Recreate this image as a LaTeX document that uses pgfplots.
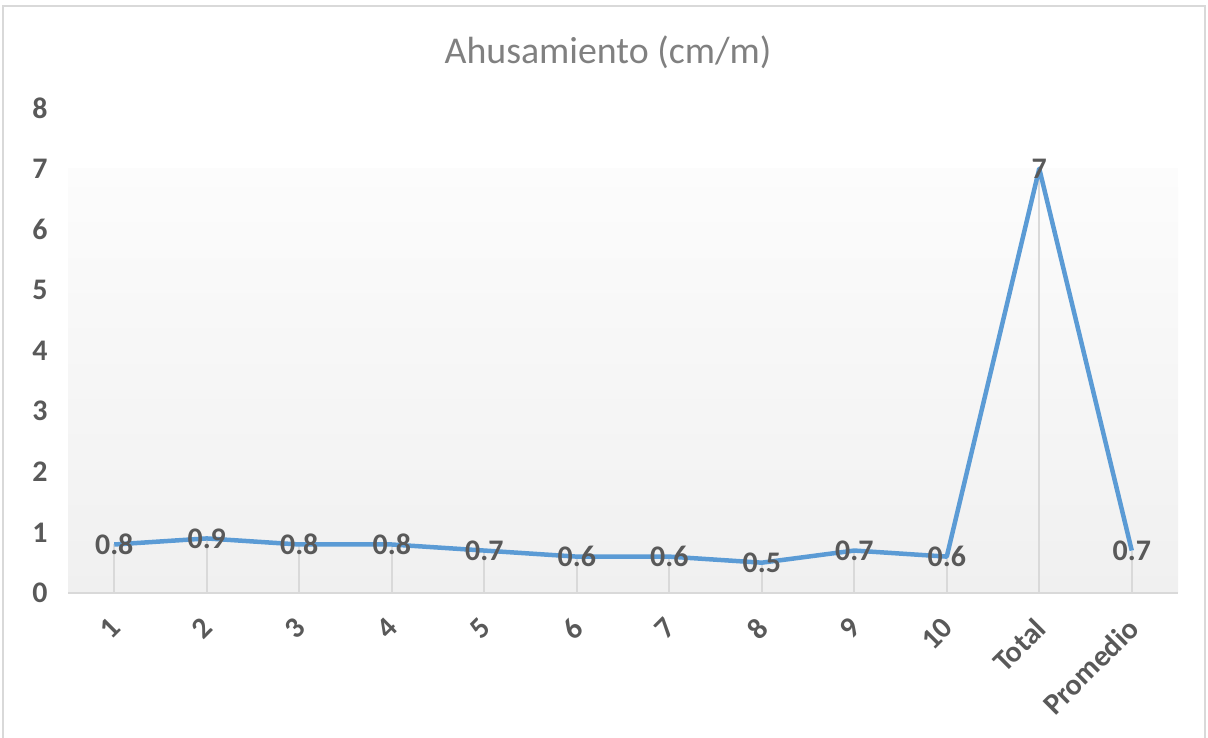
\documentclass[border=0pt]{standalone}
\usepackage{pgfplots}
\pgfplotsset{compat=1.18}
\usepackage{fontspec}
\setmainfont{Carlito}
\definecolor{lineblue}{HTML}{5B9BD5}
\definecolor{txt}{HTML}{595959}
\definecolor{gridc}{HTML}{D9D9D9}
\definecolor{bgbot}{HTML}{F0F0F0}
\definecolor{bgtop}{HTML}{FCFCFC}
\definecolor{titlec}{HTML}{808080}
\begin{document}
\begin{tikzpicture}[x=1bp,y=1bp]
\useasboundingbox (0,0) rectangle (1208,738);
\draw[gridc, line width=1.5bp] (3,-5) rectangle (1205,732);
\node[text=titlec] at (608,686) {\fontsize{38}{44}\selectfont Ahusamiento (cm/m)};
\begin{axis}[
  at={(68bp,145bp)}, anchor=south west,
  scale only axis, width=1110bp, height=485bp,
  xmin=-0.5, xmax=11.5, ymin=0, ymax=8,
  xtick={0,...,11},
  xticklabels={1,2,3,4,5,6,7,8,9,10,Total,Promedio},
  ytick={0,...,8},
  /pgf/number format/assume math mode=true,
  axis x line*=bottom, axis y line*=left,
  y axis line style={draw=none},
  x axis line style={draw=gridc, line width=2bp, -},
  major tick length=0pt,
  axis on top,
  clip=false,
  ticklabel style={font=\fontsize{30}{34}\selectfont\bfseries, text=txt},
  yticklabel style={xshift=-17bp},
  xticklabel style={xshift=-6bp, yshift=-1bp, rotate=45, anchor=north east, inner sep=0pt},
  xticklabel shift=22bp,
]
\fill[top color=bgtop, bottom color=bgbot] (axis cs:-0.5,0) rectangle (axis cs:11.5,7);
\addplot[ycomb, draw=gridc, line width=1.8bp, forget plot] coordinates {
(0,0.8) (1,0.9) (2,0.8) (3,0.8) (4,0.7) (5,0.6) (6,0.6) (7,0.5) (8,0.7) (9,0.6) (10,7) (11,0.7)};
\addplot[lineblue, line width=4.5bp, line join=round, no marks,
  nodes near coords,
  point meta=explicit symbolic,
  nodes near coords style={anchor=center, inner sep=0pt, text=txt, font=\fontsize{30}{34}\selectfont\bfseries}]
  coordinates {
(0,0.8) [0.8] (1,0.9) [0.9] (2,0.8) [0.8] (3,0.8) [0.8] (4,0.7) [0.7] (5,0.6) [0.6]
(6,0.6) [0.6] (7,0.5) [0.5] (8,0.7) [0.7] (9,0.6) [0.6] (10,7) [7] (11,0.7) [0.7]};
\end{axis}
\end{tikzpicture}
\end{document}
